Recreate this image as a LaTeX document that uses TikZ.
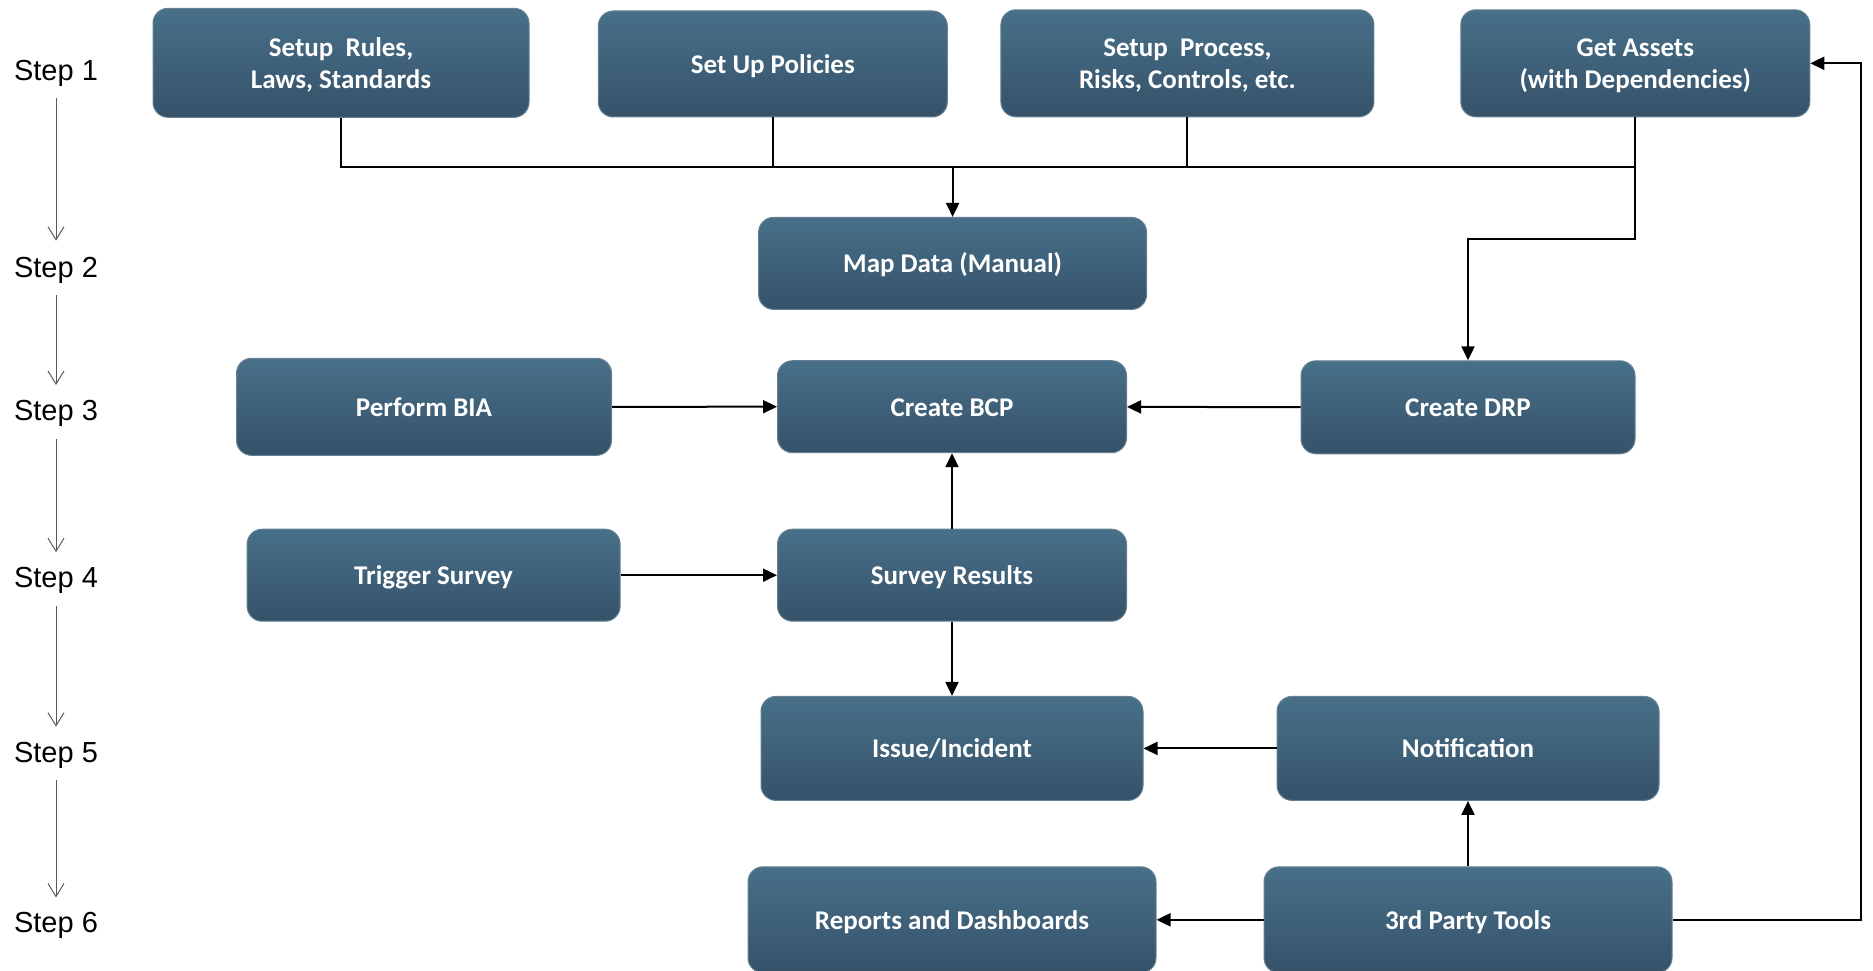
\documentclass[tikz,border=0pt]{standalone}
\usepackage{fontspec}
\setmainfont{Liberation Sans}
\newfontfamily\boxfont{Carlito}
\usetikzlibrary{arrows.meta}

\definecolor{boxtop}{RGB}{72,112,137}
\definecolor{boxbot}{RGB}{53,82,105}
\definecolor{boxedge}{RGB}{100,128,146}
\definecolor{steparrow}{RGB}{90,90,90}

% box caption: centred lines, set a little below the geometric centre
\newcommand\boxcaption[1]{\raisebox{-3pt}[\height][\depth]{\begin{tabular}{@{}c@{}}#1\end{tabular}}}

\tikzset{
  procbox/.style={rounded corners=15pt, top color=boxtop, bottom color=boxbot,
    draw=boxedge, line width=1pt, text=white, inner sep=0pt,
    font=\boxfont\bfseries\fontsize{27}{32}\selectfont},
  steplabel/.style={font=\fontsize{29}{33}\selectfont, inner sep=0pt},
  stepflow/.style={draw=steparrow, line width=1pt,
    -{Straight Barb[length=13pt,width=16pt,line width=1pt]}},
  conn/.style={draw=black, line width=2pt},
  arr/.style={conn, -{Triangle[length=14pt,width=13pt]}}
}

\begin{document}
\begin{tikzpicture}[x=1pt, y={(0pt,-1pt)}]
\useasboundingbox (0,0) rectangle (1873,971);

% step column
\node[steplabel] (s1) at (56,73)    {Step 1};
\node[steplabel] (s2) at (56,270)   {Step 2};
\node[steplabel] (s3) at (56,413.3) {Step 3};
\node[steplabel] (s4) at (56,580.5) {Step 4};
\node[steplabel] (s5) at (56,755)   {Step 5};
\node[steplabel] (s6) at (56,925.8) {Step 6};
\draw[stepflow] ([yshift=-12pt]s1.south) -- ([yshift=16pt]s2.north);
\draw[stepflow] ([yshift=-12pt]s2.south) -- ([yshift=15pt]s3.north);
\draw[stepflow] ([yshift=-12pt]s3.south) -- ([yshift=15pt]s4.north);
\draw[stepflow] ([yshift=-12pt]s4.south) -- ([yshift=15pt]s5.north);
\draw[stepflow] ([yshift=-12pt]s5.south) -- ([yshift=15pt]s6.north);

% process boxes
\node[procbox, minimum width=376pt, minimum height=109pt] (rules)  at (341,62.8)   {\boxcaption{Setup~ Rules,\\Laws, Standards}};
\node[procbox, minimum width=349pt, minimum height=106pt] (policy) at (772.8,64)   {\boxcaption{Set Up Policies}};
\node[procbox, minimum width=373pt, minimum height=107pt] (proc)   at (1187.4,63.3) {\boxcaption{Setup~ Process,\\Risks, Controls, etc.}};
\node[procbox, minimum width=349pt, minimum height=107pt] (assets) at (1635.3,63.3) {\boxcaption{Get Assets\\(with Dependencies)}};
\node[procbox, minimum width=388pt, minimum height=92pt]  (map)    at (952.6,263.4) {\boxcaption{Map Data (Manual)}};
\node[procbox, minimum width=375pt, minimum height=97pt]  (bia)    at (424,406.8)   {\boxcaption{Perform BIA}};
\node[procbox, minimum width=349pt, minimum height=92pt]  (bcp)    at (952,406.7)   {\boxcaption{Create BCP}};
\node[procbox, minimum width=334pt, minimum height=93pt]  (drp)    at (1468,407.3)  {\boxcaption{Create DRP}};
\node[procbox, minimum width=373pt, minimum height=92pt]  (trig)   at (433.6,575.2) {\boxcaption{Trigger Survey}};
\node[procbox, minimum width=349pt, minimum height=92pt]  (survey) at (952,575.2)   {\boxcaption{Survey Results}};
\node[procbox, minimum width=382pt, minimum height=104pt] (issue)  at (952,748.4)   {\boxcaption{Issue/Incident}};
\node[procbox, minimum width=382pt, minimum height=104pt] (notif)  at (1468,748.4)  {\boxcaption{Notification}};
\node[procbox, minimum width=408pt, minimum height=106pt] (report) at (952,919.8)   {\boxcaption{Reports and Dashboards}};
\node[procbox, minimum width=408pt, minimum height=106pt] (tools)  at (1468,919.8)  {\boxcaption{3rd Party Tools}};

% routing points
\coordinate (bus)  at (0,167.2);
\coordinate (turn) at (0,238.9);
\coordinate (loop) at (1861,0);

% step 1 bus into the mapping
\draw[conn] (rules.south) -- (rules.south |- bus) -- (assets.south |- bus) -- (assets.south);
\draw[conn] (policy.south) -- (policy.south |- bus);
\draw[conn] (proc.south) -- (proc.south |- bus);
\draw[arr] (map.north |- bus) -- (map.north);
\draw[arr] (assets.south |- bus) -- (assets.south |- turn) -- (drp.north |- turn) -- (drp.north);

% remaining flow
\draw[arr] (bia) -- (bcp);
\draw[arr] (drp) -- (bcp);
\draw[arr] (survey) -- (bcp);
\draw[arr] (trig) -- (survey);
\draw[arr] (survey) -- (issue);
\draw[arr] (notif) -- (issue);
\draw[arr] (tools) -- (notif);
\draw[arr] (tools) -- (report);
\draw[arr] (tools.east) -| (loop |- assets.east) -- (assets.east);
\end{tikzpicture}
\end{document}
